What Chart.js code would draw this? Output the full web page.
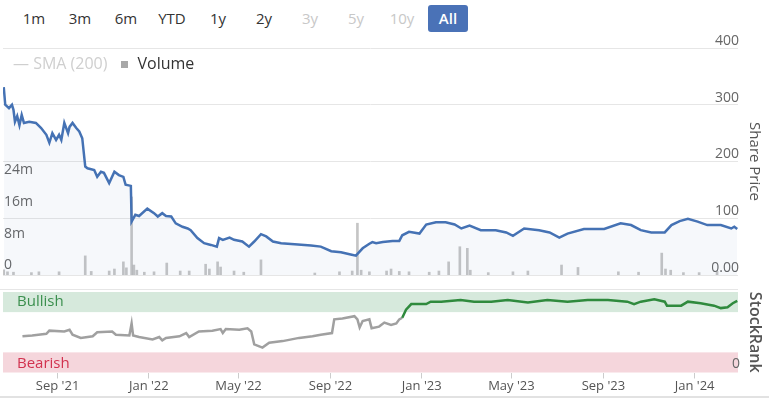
<!DOCTYPE html>
<html>
<head>
<meta charset="utf-8">
<script src="https://cdn.jsdelivr.net/npm/chart.js@4.4.1/dist/chart.umd.min.js"></script>
<style>
  body { margin: 0; background: #fff; font-family: 'Open Sans', sans-serif; }
  #wrap { position: relative; width: 769px; height: 399px; overflow: hidden; background: #fff; }
  #ranges { position: absolute; left: 14px; top: 5px; display: flex; z-index: 2; }
  #ranges span { width: 40px; height: 27px; line-height: 27px; margin-right: 6px; text-align: center; font-size: 15px; color: #333; border-radius: 3px; }
  #ranges span.off { color: #c8c8c8; }
  #ranges span.on { background: #4a72b7; color: #fff; font-weight: 600; }
  #legend { position: absolute; left: 13px; top: 52px; font-size: 16px; z-index: 2; display: flex; align-items: center; }
  #legend .sma { color: #cfcfcf; }
  #legend .sq { display: inline-block; width: 7px; height: 7px; background: #a8a8a8; margin: 3px 9px 0 14px; }
  #legend .vol { color: #333; }
  canvas { position: absolute; left: 0; }
  #priceChart { top: 32px; }
  #rankChart { top: 285px; }
  #baseLine { position: absolute; left: 0; top: 396px; width: 769px; height: 2px; background: #e2e2e2; }
</style>
</head>
<body>
<div id="wrap">
  <div id="ranges">
    <span>1m</span><span>3m</span><span>6m</span><span>YTD</span><span>1y</span><span>2y</span>
    <span class="off">3y</span><span class="off">5y</span><span class="off">10y</span><span class="on">All</span>
  </div>
  <div id="legend"><span class="sma">— SMA (200)</span><span class="sq"></span><span class="vol">Volume</span></div>
  <canvas id="priceChart" width="769" height="248"></canvas>
  <canvas id="rankChart" width="769" height="112"></canvas>
  <div id="baseLine"></div>
</div>
<script>
// share price
const priceDates = ['2021-06-21','2021-06-23','2021-06-28','2021-07-02','2021-07-04','2021-07-06','2021-07-09','2021-07-12','2021-07-15','2021-07-18',
  '2021-07-25','2021-08-03','2021-08-10','2021-08-17','2021-08-21','2021-08-25','2021-08-30','2021-09-03','2021-09-06','2021-09-10',
  '2021-09-15','2021-09-17','2021-09-21','2021-09-26','2021-09-30','2021-10-04','2021-10-08','2021-10-11','2021-10-20','2021-10-24',
  '2021-10-29','2021-11-02','2021-11-09','2021-11-16','2021-11-22','2021-11-28','2021-12-01','2021-12-08','2021-12-09','2021-12-14',
  '2021-12-19','2021-12-30','2022-01-08','2022-01-13','2022-01-19','2022-01-24','2022-01-31','2022-02-06','2022-02-15','2022-02-22',
  '2022-02-26','2022-03-07','2022-03-16','2022-03-25','2022-04-02','2022-04-05','2022-04-10','2022-04-19','2022-04-25','2022-05-06',
  '2022-05-15','2022-05-22','2022-05-31','2022-06-07','2022-06-16','2022-06-27','2022-07-15','2022-08-06','2022-08-19','2022-09-02',
  '2022-09-15','2022-09-28','2022-10-05','2022-10-14','2022-10-23','2022-10-27','2022-11-01','2022-11-10','2022-11-23','2022-12-02',
  '2022-12-06','2022-12-15','2022-12-29','2023-01-07','2023-01-20','2023-02-02','2023-02-14','2023-02-23','2023-03-06','2023-03-21',
  '2023-04-10','2023-04-24','2023-05-03','2023-05-18','2023-06-07','2023-06-21','2023-07-04','2023-07-15','2023-08-06','2023-09-02',
  '2023-09-24','2023-10-08','2023-10-21','2023-11-04','2023-11-22','2023-12-01','2023-12-12','2023-12-23','2024-01-05','2024-01-18',
  '2024-02-05','2024-02-19','2024-02-23','2024-02-27'];
const priceValues = [331,300,294,300,291,270,280,264,282,268,
  270,268,259,247,233,250,238,247,238,268,
  250,261,268,259,253,241,191,188,185,173,
  182,180,162,182,176,173,159,157,94,106,
  104,117,109,103,109,104,103,91,85,82,
  79,65,56,53,50,65,62,66,62,59,
  50,59,72,68,59,56,54,52,50,42,
  40,36,34,47,55,58,56,58,60,60,
  70,76,73,89,93,93,89,82,87,79,
  79,75,69,82,79,75,66,73,81,81,
  91,88,79,75,75,88,95,99,94,88,
  88,82,85,81];

// volume (millions)
const volDates = ['2021-06-21','2021-06-26','2021-07-04','2021-07-28','2021-08-07','2021-09-03','2021-10-08','2021-10-16','2021-11-09','2021-11-16',
  '2021-11-28','2021-12-02','2021-12-09','2021-12-12','2021-12-16','2021-12-26','2022-01-08','2022-01-25','2022-02-12','2022-02-24',
  '2022-03-18','2022-03-23','2022-04-03','2022-04-07','2022-04-25','2022-05-08','2022-05-31','2022-08-11','2022-09-13','2022-09-30',
  '2022-10-07','2022-10-12','2022-10-23','2022-11-15','2022-11-21','2022-12-02','2022-12-15','2023-01-11','2023-01-24','2023-02-06',
  '2023-02-21','2023-03-03','2023-03-07','2023-03-31','2023-05-03','2023-05-23','2023-07-07','2023-07-29','2023-09-21','2023-10-18',
  '2023-11-18','2023-11-23','2023-11-30','2023-12-17','2024-01-07','2024-01-31'];
const volValues = [1.3,0.8,0.7,0.6,0.8,0.8,4.8,0.9,1.0,1.5,
  3.3,1.8,19.6,2.5,1.2,0.7,0.8,3.0,1.0,1.0,
  2.7,1.5,3.3,2.0,1.0,0.7,3.8,0.5,0.8,1.0,
  13,1.2,0.8,1.0,1.5,0.9,0.8,0.7,1.0,3.3,
  7.1,6.7,1.2,0.6,0.8,1.0,2.5,1.9,0.8,0.7,
  5.5,1.5,1.2,0.6,0.6,0.9];

// StockRank
const rankDates = ['2021-07-16','2021-07-29','2021-08-17','2021-08-21','2021-09-10','2021-09-17','2021-09-21','2021-10-02','2021-10-18','2021-10-24',
  '2021-11-13','2021-11-18','2021-12-06','2021-12-09','2021-12-11','2021-12-19','2022-01-06','2022-01-15','2022-01-19','2022-01-24',
  '2022-02-11','2022-02-20','2022-02-24','2022-03-09','2022-03-27','2022-04-07','2022-04-10','2022-04-14','2022-05-02','2022-05-13',
  '2022-05-18','2022-05-22','2022-06-02','2022-06-11','2022-06-29','2022-07-21','2022-08-08','2022-08-19','2022-09-03','2022-09-06',
  '2022-09-17','2022-10-03','2022-10-07','2022-10-10','2022-10-14','2022-10-23','2022-10-26','2022-11-05','2022-11-12','2022-11-21',
  '2022-11-28','2022-12-02','2022-12-06','2022-12-11','2022-12-18','2023-01-07','2023-01-13','2023-01-27','2023-02-22','2023-03-12',
  '2023-04-04','2023-04-26','2023-05-23','2023-06-18','2023-07-15','2023-08-11','2023-09-07','2023-10-03','2023-10-12','2023-10-21',
  '2023-11-08','2023-11-22','2023-11-25','2023-12-14','2023-12-23','2024-01-09','2024-01-27','2024-02-05','2024-02-14','2024-02-21',
  '2024-02-27'];
const rankValues = [45,46,48,52,51,53,47,43,45,50,
  51,47,46,61,46,44,41,44,40,43,
  45,49,44,51,52,54,49,54,53,55,
  51,35,31,37,39,43,45,47,49,66,
  67,70,66,56,64,66,55,57,62,59,
  61,66,68,78,85,85,88,88,90,88,
  88,90,87,90,88,90,90,88,85,88,
  91,88,83,83,88,86,83,80,81,86,
  89];

const tickDates = ['2021-09-01','2022-01-01','2022-05-01','2022-09-01','2023-01-01','2023-05-01','2023-09-01','2024-01-01'];
const tickLabels = ["Sep '21","Jan '22","May '22","Sep '22","Jan '23","May '23","Sep '23","Jan '24"];
const volTicks = [0, 8e6, 16e6, 24e6];
const volTickLabels = ['0','8m','16m','24m'];

const xMin = Date.parse('2021-06-20');
const xMax = Date.parse('2024-02-28');
const toXY = (dates, vals, k = 1) => dates.map((d, i) => ({x: Date.parse(d), y: vals[i] * k}));

Chart.defaults.font.family = "'Open Sans', sans-serif";

const green = '#2f8a3d';
const grey = '#a0a0a0';

// fixed axis width, and no extra room for the end labels (they sit inside the plot)
const fitY = w => s => { s.width = w; s.paddingTop = 0; s.paddingBottom = 0; };

let priceChart = new Chart(document.getElementById('priceChart'), {
  type: 'line',
  data: {
    datasets: [
      {
        label: 'Share Price',
        data: toXY(priceDates, priceValues),
        yAxisID: 'price',
        borderColor: '#4572b4',
        borderWidth: 2.5,
        pointRadius: 0,
        fill: 'origin',
        backgroundColor: 'rgba(69,114,180,0.05)',
        order: 1
      },
      {
        type: 'bar',
        label: 'Volume',
        data: toXY(volDates, volValues, 1e6),
        yAxisID: 'vol',
        backgroundColor: 'rgba(150,150,150,0.55)',
        barThickness: 2,
        order: 2
      }
    ]
  },
  options: {
    responsive: false,
    animation: false,
    layout: {padding: {top: 16, bottom: 5}},
    plugins: {legend: {display: false}, tooltip: {enabled: false}},
    scales: {
      x: {type: 'linear', min: xMin, max: xMax, offset: false, display: false},
      price: {
        position: 'right', min: 0, max: 400,
        grid: {color: '#e6e6e6', drawTicks: false},
        border: {display: false},
        ticks: {stepSize: 100, mirror: true, padding: 1, labelOffset: -7, color: '#666', font: {size: 14},
          callback: v => v === 0 ? '0.00' : v},
        title: {display: true, text: 'Share Price', color: '#555', font: {size: 15}, padding: {top: 6, bottom: 0}},
        afterFit: fitY(31)
      },
      vol: {
        position: 'left', min: 0, max: 57e6,
        grid: {display: false},
        border: {display: false},
        ticks: {mirror: true, padding: 1, labelOffset: -9.5, color: '#666', font: {size: 14},
          callback: (v, i) => volTickLabels[i]},
        afterBuildTicks: s => { s.ticks = volTicks.map(v => ({value: v})); },
        afterFit: fitY(3)
      }
    }
  }
});

// bullish / bearish bands, drawn before the axes so the "0" label stays on top
const bands = {
  id: 'bands',
  beforeDraw(chart) {
    const {ctx, chartArea: a, scales: {y}} = chart;
    ctx.save();
    ctx.fillStyle = '#e6e6e6';
    ctx.fillRect(0, a.top - 3, a.right, 1);
    ctx.fillStyle = '#d6e9dc';
    ctx.fillRect(a.left, y.getPixelForValue(100), a.right - a.left, y.getPixelForValue(75) - y.getPixelForValue(100));
    ctx.fillStyle = '#f5d6dc';
    ctx.fillRect(a.left, y.getPixelForValue(25), a.right - a.left, y.getPixelForValue(0) - y.getPixelForValue(25));
    ctx.font = "15px 'Open Sans', sans-serif";
    ctx.textBaseline = 'middle';
    ctx.fillStyle = '#3b8f4e';
    ctx.fillText('Bullish', a.left + 14, y.getPixelForValue(87.5));
    ctx.fillStyle = '#d2324f';
    ctx.fillText('Bearish', a.left + 14, y.getPixelForValue(11.5));
    ctx.restore();
  }
};

let rankChart = new Chart(document.getElementById('rankChart'), {
  type: 'line',
  data: {
    datasets: [{
      label: 'StockRank',
      data: toXY(rankDates, rankValues),
      borderColor: grey,
      borderWidth: 2.5,
      pointRadius: 0,
      segment: {borderColor: c => c.p1.parsed.y >= 75 ? green : grey}
    }]
  },
  options: {
    responsive: false,
    animation: false,
    layout: {padding: {top: 7, left: 3}},
    plugins: {legend: {display: false}, tooltip: {enabled: false}},
    scales: {
      x: {
        type: 'linear', min: xMin, max: xMax,
        grid: {drawOnChartArea: false, tickLength: 6, color: '#cccccc'},
        border: {display: false},
        ticks: {color: '#555', font: {size: 13}, padding: 0, maxRotation: 0, autoSkip: false,
          callback: (v, i) => tickLabels[i]},
        afterBuildTicks: s => { s.ticks = tickDates.map(d => ({value: Date.parse(d)})); },
        afterFit: s => { s.height = 24.5; }
      },
      y: {
        position: 'right', min: 0, max: 100,
        grid: {display: false},
        border: {display: false},
        ticks: {mirror: true, padding: 2, labelOffset: -8, color: '#666', font: {size: 14}},
        afterBuildTicks: s => { s.ticks = [{value: 0}]; },
        title: {display: true, text: 'StockRank', color: '#555', font: {size: 16, weight: '600'}, padding: {top: 5, bottom: 0}},
        afterFit: fitY(31)
      }
    }
  },
  plugins: [bands]
});
</script>
</body>
</html>
